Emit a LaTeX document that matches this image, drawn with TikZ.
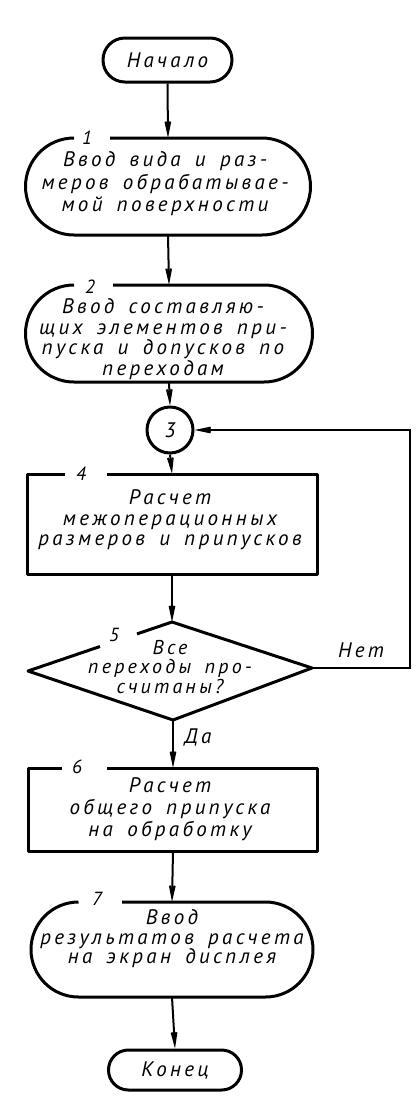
\documentclass[tikz,border=0pt]{standalone}
\usepackage{fontspec}
\newfontfamily\gost{PT Sans}[LetterSpace=16,WordSpace=1.6]
\usetikzlibrary{arrows.meta}
\newcommand{\gfont}{\gost\itshape\fontsize{21}{22}\selectfont}
\newcommand{\gfs}[1]{\gost\itshape\fontsize{21}{#1}\selectfont}
\begin{document}
\begin{tikzpicture}[x=1pt,y=1pt,
  every node/.style={font=\gfont, inner sep=0pt, text=black},
  border/.style={line width=3pt, line join=round},
  conn/.style={line width=2pt},
  arr/.style={conn, -{Stealth[length=26pt,width=11pt,inset=13pt]}},
  shapebox/.style={draw=none},
  txt/.style={align=center},
  numlab/.style={font=\gost\itshape\fontsize{19}{19}\selectfont},
]
\useasboundingbox (0,0) rectangle (420,-1103);

% start
\node[border, draw, rounded corners=21.9pt, minimum width=129pt, minimum height=44pt] (start) at (167.5,-60) {Начало};

% block 1
\node[shapebox, minimum width=285pt, minimum height=97pt] (b1) at (168,-186.5) {};
\draw[border] (110,-138) -- (262,-138) arc[start angle=90,end angle=-90,radius=48.5]
  -- (74,-235) arc[start angle=270,end angle=90,radius=48.5];
\node[txt, font=\gfs{22.5}] (t1) at (165,-184) {Ввод вида и раз-\\меров обрабатывае-\\мой поверхности};
\node[numlab] (n1) at (87,-138) {1};

% block 2
\node[shapebox, minimum width=287pt, minimum height=97pt] (b2) at (169,-333.5) {};
\draw[border] (113,-285) -- (264,-285) arc[start angle=90,end angle=-90,radius=48.5]
  -- (74,-382) arc[start angle=270,end angle=90,radius=48.5];
\node[txt, font=\gfs{20.5}] (t2) at (163,-339) {Ввод составляю-\\щих элементов при-\\пуска и допусков по\\переходам};
\node[numlab] (n2) at (90,-287) {2};

% connector circle 3
\node[border, draw, circle, minimum size=46pt] (c3) at (170,-430) {3};

% block 4
\node[shapebox, minimum width=290pt, minimum height=100pt] (r4) at (172,-524) {};
\draw[border] (107,-474) -- (317,-474) -- (317,-574) -- (27,-574) -- (27,-474) -- (65,-474);
\node[txt, font=\gfs{20.5}] (t4) at (170,-520) {Расчет\\межоперационных\\размеров и припусков};
\node[numlab] (n4) at (81,-474) {4};

% decision 5
\coordinate (dT) at (172,-622);
\coordinate (dR) at (312,-668);
\coordinate (dB) at (173,-720);
\coordinate (dL) at (28,-671);
\draw[border] (137,-633.9) -- (dT) -- (dR) -- (dB) -- (dL) -- (100,-646.5);
\node[txt, font=\gost\itshape\fontsize{20}{19.5}\selectfont] (d5) at (170,-667) {Все\\переходы про-\\считаны?};
\node[numlab] (n5) at (114,-635) {5};

% block 6
\node[shapebox, minimum width=289pt, minimum height=83pt] (r6) at (173,-809.5) {};
\draw[border] (107,-768) -- (317.5,-768) -- (317.5,-851) -- (28.5,-851) -- (28.5,-768) -- (62,-768);
\node[txt, font=\gfs{22}] (t6) at (170,-809) {Расчет\\общего припуска\\на обработку};
\node[numlab] (n6) at (77,-767) {6};

% block 7
\node[shapebox, minimum width=282pt, minimum height=95pt] (b7) at (172,-949.5) {};
\draw[border] (122,-902) -- (265.5,-902) arc[start angle=90,end angle=-90,radius=47.5]
  -- (78.5,-997) arc[start angle=270,end angle=90,radius=47.5];
\node[txt, font=\gfs{19.5}] (t7) at (172,-939) {Ввод\\результатов расчета\\на экран дисплея};
\node[numlab] (n7) at (97,-899) {7};

% end
\node[border, draw, rounded corners=19.9pt, minimum width=133pt, minimum height=40pt] (end) at (175,-1070) {Конец};

% connectors
\draw[arr] (start.south) -- (b1.north);
\draw[arr] (b1.south) -- (b2.north);
\draw[arr] (b2.south) -- (c3.north);
\draw[arr] (c3.south) -- (r4.north);
\draw[arr] (r4.south) -- (dT);
\draw[arr] (dB) -- (r6.north);
\draw[arr] (r6.south) -- (b7.north);
\draw[arr] (b7.south) -- (end.north);
\coordinate (loopA) at (410,-668);
\draw[arr] (dR) -- (loopA) |- (c3.east);

\node (yes) at (198,-737) {Да};
\node (no) at (361,-650) {Нет};
\end{tikzpicture}
\end{document}
